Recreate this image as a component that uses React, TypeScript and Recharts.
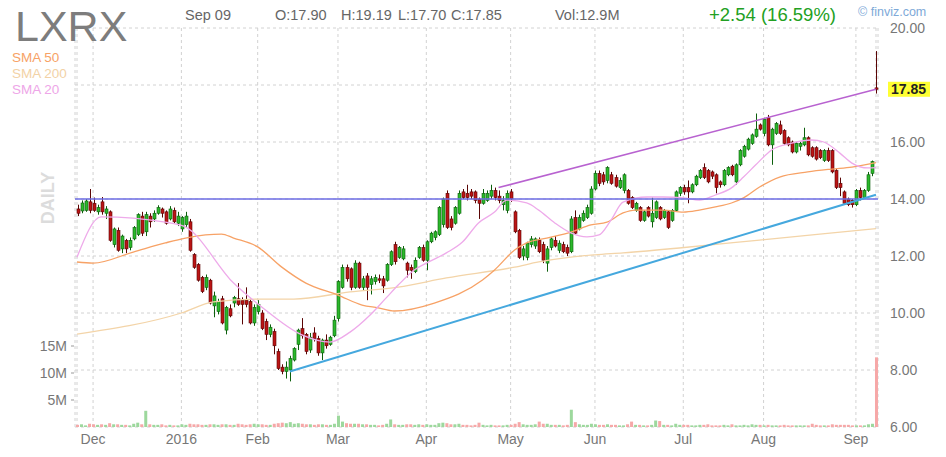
import React from "react";
import { ComposedChart, Bar, Line, XAxis, YAxis, CartesianGrid, ReferenceLine } from "recharts";

const FONT = "'Liberation Sans', Arial, sans-serif";

// trading days on the chart, month by month
const tradingDays: [string, number[]][] = [
  ["2015-11", [24, 25, 27, 30]],
  ["2015-12", [1, 2, 3, 4, 7, 8, 9, 10, 11, 14, 15, 16, 17, 18, 21, 22, 23, 24, 28, 29, 30, 31]],
  ["2016-01", [4, 5, 6, 7, 8, 11, 12, 13, 14, 15, 19, 20, 21, 22, 25, 26, 27, 28, 29]],
  ["2016-02", [1, 2, 3, 4, 5, 8, 9, 10, 11, 12, 16, 17, 18, 19, 22, 23, 24, 25, 26, 29]],
  ["2016-03", [1, 2, 3, 4, 7, 8, 9, 10, 11, 14, 15, 16, 17, 18, 21, 22, 23, 24, 28, 29, 30, 31]],
  ["2016-04", [1, 4, 5, 6, 7, 8, 11, 12, 13, 14, 15, 18, 19, 20, 21, 22, 25, 26, 27, 28, 29]],
  ["2016-05", [2, 3, 4, 5, 6, 9, 10, 11, 12, 13, 16, 17, 18, 19, 20, 23, 24, 25, 26, 27, 31]],
  ["2016-06", [1, 2, 3, 6, 7, 8, 9, 10, 13, 14, 15, 16, 17, 20, 21, 22, 23, 24, 27, 28, 29, 30]],
  ["2016-07", [1, 5, 6, 7, 8, 11, 12, 13, 14, 15, 18, 19, 20, 21, 22, 25, 26, 27, 28, 29]],
  ["2016-08", [1, 2, 3, 4, 5, 8, 9, 10, 11, 12, 15, 16, 17, 18, 19, 22, 23, 24, 25, 26, 29, 30, 31]],
  ["2016-09", [1, 2, 6, 7, 8, 9]],
];

const monthTicks = ["2015-12-01", "2016-01-04", "2016-02-01", "2016-03-01", "2016-04-01", "2016-05-02", "2016-06-01", "2016-07-01", "2016-08-01", "2016-09-01"];
const monthLabels = ["Dec", "2016", "Feb", "Mar", "Apr", "May", "Jun", "Jul", "Aug", "Sep"];

// open, high, low, close
const ohlc: number[][] = [
  [13.65, 13.8, 13.4, 13.5], [13.58, 13.95, 13.5, 13.86], [13.6, 14.0, 13.55, 13.93], [13.9, 14.35, 13.5, 13.6],
  [13.85, 14.05, 13.55, 13.6], [13.55, 13.8, 13.45, 13.7], [13.9, 14.07, 13.45, 13.55], [13.5, 13.75, 13.3, 13.65],
  [13.55, 13.6, 12.5, 12.55], [12.4, 13.0, 12.3, 12.95], [12.9, 13.0, 12.15, 12.2], [12.25, 12.75, 12.1, 12.7],
  [12.55, 12.6, 12.1, 12.25], [12.3, 12.65, 12.2, 12.55], [12.6, 13.05, 12.55, 13.0], [12.75, 13.5, 12.7, 13.45],
  [13.4, 13.55, 12.7, 12.8], [12.85, 13.55, 12.7, 13.45], [13.4, 13.5, 13.0, 13.2], [13.3, 13.6, 13.2, 13.5],
  [13.5, 13.78, 13.45, 13.7], [13.65, 13.7, 13.35, 13.5], [13.55, 13.6, 13.1, 13.15], [13.3, 13.75, 13.25, 13.65],
  [13.6, 13.7, 13.15, 13.2], [13.15, 13.55, 13.05, 13.4],
  [12.95, 13.4, 12.85, 13.35], [13.1, 13.55, 13.0, 13.4], [13.2, 13.3, 12.15, 12.2], [12.05, 12.1, 11.55, 11.6],
  [11.7, 11.75, 11.1, 11.15], [11.25, 11.3, 10.7, 10.75], [10.9, 11.35, 10.8, 11.25], [11.15, 11.2, 10.3, 10.35],
  [10.25, 10.75, 9.85, 10.6], [10.05, 10.5, 9.95, 10.4], [10.5, 10.6, 9.6, 9.65], [9.4, 10.25, 9.25, 10.2],
  [10.15, 10.3, 9.85, 9.9], [10.35, 10.6, 10.2, 10.55], [10.5, 11.05, 10.25, 10.3], [10.45, 10.55, 9.6, 10.3],
  [10.45, 10.9, 10.2, 10.3], [10.4, 10.5, 9.6, 9.65], [9.65, 10.3, 9.55, 10.2],
  [10.05, 10.45, 9.95, 10.3], [10.0, 10.1, 9.4, 9.45], [9.7, 9.8, 9.05, 9.25], [9.25, 9.6, 9.15, 9.5],
  [9.35, 9.45, 8.55, 8.85], [8.65, 8.75, 8.0, 8.05], [8.1, 8.2, 7.85, 7.95], [7.95, 8.3, 7.7, 8.1],
  [8.0, 8.5, 7.6, 8.4], [8.35, 8.8, 8.3, 8.75], [8.9, 9.45, 8.7, 9.4], [9.45, 9.82, 9.1, 9.2],
  [9.25, 9.3, 8.55, 8.65], [8.7, 9.3, 8.6, 9.15], [9.3, 9.5, 9.0, 9.1], [9.1, 9.2, 8.5, 8.6],
  [8.6, 9.1, 8.35, 9.05], [9.05, 9.25, 8.75, 8.85], [8.9, 9.2, 8.85, 9.15], [9.2, 9.9, 9.15, 9.75],
  [9.8, 11.15, 9.7, 11.1], [10.9, 11.7, 10.85, 11.6], [11.6, 11.7, 11.1, 11.2], [11.55, 11.6, 10.8, 10.9],
  [10.9, 11.85, 10.85, 11.75], [11.75, 11.8, 10.85, 10.9], [10.9, 11.3, 10.8, 11.2], [11.3, 11.4, 10.45, 10.9],
  [11.0, 11.3, 10.65, 11.2], [11.1, 11.35, 11.0, 11.25], [11.2, 11.35, 11.05, 11.15], [11.2, 11.3, 10.7, 10.95],
  [11.15, 11.75, 11.1, 11.7], [11.7, 12.2, 11.65, 12.15], [12.4, 12.5, 11.7, 11.8], [11.95, 12.35, 11.9, 12.3],
  [11.9, 12.35, 11.85, 12.25], [11.75, 11.8, 11.25, 11.5], [11.6, 11.7, 11.2, 11.5], [11.45, 11.95, 11.4, 11.85],
  [11.95, 12.35, 11.9, 12.3], [12.3, 12.4, 11.8, 11.85],
  [11.85, 12.55, 11.5, 12.5], [12.5, 12.85, 12.45, 12.8], [12.65, 12.9, 12.55, 12.85], [12.75, 13.75, 12.7, 13.7],
  [13.1, 14.05, 13.0, 14.0], [14.2, 14.3, 12.95, 13.0], [13.3, 13.4, 12.9, 13.0], [13.15, 13.75, 13.1, 13.7],
  [13.5, 14.3, 13.45, 14.2], [14.25, 14.35, 14.0, 14.05], [14.2, 14.5, 13.95, 14.05], [14.25, 14.35, 14.0, 14.1],
  [14.25, 14.3, 13.85, 13.95], [14.0, 14.05, 13.3, 13.85], [13.85, 14.35, 13.8, 14.2], [13.95, 14.3, 13.9, 14.2],
  [14.1, 14.5, 14.0, 14.3], [14.3, 14.4, 13.95, 14.05], [14.1, 14.3, 13.85, 13.95], [13.8, 14.1, 13.6, 13.95],
  [13.6, 14.3, 13.5, 14.2],
  [14.25, 14.35, 13.9, 14.0], [13.55, 13.6, 12.8, 12.85], [12.9, 12.95, 11.9, 11.95], [12.0, 12.35, 11.85, 12.25],
  [11.95, 12.5, 11.85, 12.45], [12.4, 12.7, 12.3, 12.6], [12.35, 12.65, 12.25, 12.6], [12.55, 12.65, 12.1, 12.15],
  [12.4, 12.5, 11.75, 11.85], [11.75, 12.35, 11.45, 12.25], [12.3, 12.65, 12.2, 12.6], [12.55, 12.7, 12.3, 12.35],
  [12.2, 12.55, 12.1, 12.45], [12.4, 12.5, 12.1, 12.15], [12.3, 12.4, 12.0, 12.1], [12.15, 13.4, 12.1, 13.3],
  [13.35, 13.6, 12.75, 12.8], [12.95, 13.45, 12.9, 13.35], [13.25, 13.6, 13.2, 13.5], [13.35, 13.8, 13.3, 13.7],
  [13.5, 14.45, 13.45, 14.35],
  [14.35, 15.0, 14.3, 14.9], [14.9, 15.0, 14.45, 14.55], [14.85, 14.95, 14.5, 14.6], [14.65, 15.15, 14.55, 15.1],
  [14.85, 14.95, 14.5, 14.55], [14.75, 14.85, 14.4, 14.45], [14.4, 14.75, 14.35, 14.65], [14.3, 14.9, 14.2, 14.85],
  [14.3, 14.35, 13.8, 13.85], [14.05, 14.1, 13.65, 13.7], [13.6, 13.9, 13.55, 13.85], [13.7, 13.75, 13.2, 13.25],
  [13.25, 13.6, 13.2, 13.55], [13.7, 13.75, 13.35, 13.4], [13.2, 14.05, 13.0, 13.5], [13.35, 13.95, 13.3, 13.9],
  [13.7, 13.75, 13.25, 13.3], [13.35, 13.65, 13.3, 13.6], [13.55, 13.6, 12.95, 13.0], [13.25, 13.65, 13.2, 13.6],
  [13.6, 14.3, 13.55, 14.25], [14.2, 14.45, 14.1, 14.4],
  [14.4, 14.5, 14.15, 14.25], [14.4, 14.65, 13.85, 14.25], [14.25, 14.55, 14.2, 14.5], [14.5, 14.85, 14.45, 14.8],
  [14.75, 15.05, 14.7, 15.0], [15.1, 15.25, 14.7, 14.75], [15.0, 15.05, 14.55, 14.6], [14.95, 15.0, 14.7, 14.8],
  [14.85, 14.9, 14.2, 14.4], [14.6, 14.65, 14.4, 14.5], [14.5, 15.05, 14.45, 15.0], [14.85, 15.15, 14.8, 15.1],
  [15.15, 15.2, 14.8, 14.85], [14.6, 15.25, 14.5, 15.2], [15.2, 15.75, 15.15, 15.7], [15.5, 15.9, 15.45, 15.85],
  [15.75, 16.15, 15.7, 16.1], [15.95, 16.3, 15.9, 16.25], [16.2, 17.0, 16.15, 16.45], [16.6, 16.65, 16.4, 16.45],
  [16.3, 16.85, 16.2, 16.8], [16.85, 16.95, 15.85, 15.9], [15.9, 16.5, 15.2, 16.45], [16.3, 16.7, 16.25, 16.65],
  [16.6, 16.75, 16.25, 16.3], [16.4, 16.45, 15.9, 15.95], [16.15, 16.2, 15.85, 15.9], [16.0, 16.05, 15.6, 15.65],
  [15.65, 16.0, 15.6, 15.95], [15.85, 16.0, 15.7, 15.95], [15.9, 16.5, 15.85, 16.15], [16.15, 16.2, 15.5, 15.55],
  [15.8, 15.85, 15.45, 15.5], [15.8, 15.85, 15.35, 15.4], [15.7, 15.75, 15.4, 15.45], [15.35, 15.75, 15.3, 15.7],
  [15.7, 15.8, 15.3, 15.35], [15.7, 15.75, 14.9, 14.95], [15.0, 15.05, 14.35, 14.4], [14.55, 14.75, 14.1, 14.4],
  [14.25, 14.3, 13.8, 13.85], [14.0, 14.05, 13.75, 13.8], [13.95, 14.0, 13.7, 13.8],
  [13.8, 14.35, 13.75, 14.3], [14.3, 14.4, 13.95, 14.05], [14.05, 14.35, 14.0, 14.3], [14.3, 14.95, 14.25, 14.85],
  [14.9, 15.35, 14.8, 15.31], [17.9, 19.19, 17.7, 17.85],
];

// daily volume, millions
const volumes = [
  0.4, 0.5, 0.3, 0.6, 0.5, 0.4, 0.5, 0.4, 0.7, 0.5,
  0.5, 0.4, 0.4, 0.3, 0.6, 0.8, 0.5, 3.0, 0.5, 0.4,
  0.4, 0.5, 0.3, 0.4, 0.3, 0.3, 0.5, 0.4, 0.6, 0.5,
  0.5, 0.4, 0.4, 0.5, 0.5, 0.4, 0.5, 0.5, 0.4, 0.4,
  0.6, 0.5, 0.4, 0.5, 0.6, 0.5, 0.5, 0.4, 0.4, 0.6,
  0.7, 0.8, 0.7, 0.9, 0.6, 0.7, 0.6, 0.5, 0.5, 0.4,
  0.5, 0.5, 0.4, 0.4, 0.6, 2.1, 1.0, 0.7, 0.6, 0.6,
  0.6, 0.5, 0.5, 0.4, 0.4, 0.3, 0.4, 0.6, 1.4, 0.5,
  0.4, 0.4, 0.5, 0.5, 0.4, 0.5, 0.4, 0.5, 0.4, 0.4,
  0.7, 0.8, 0.7, 0.5, 0.5, 0.6, 0.4, 0.4, 0.3, 0.4,
  0.8, 0.4, 0.3, 0.4, 0.3, 0.3, 0.3, 0.4, 0.4, 0.6,
  0.9, 0.5, 0.4, 0.4, 0.5, 1.0, 0.6, 0.6, 0.4, 0.4,
  0.4, 0.3, 0.4, 3.2, 0.9, 0.5, 0.4, 0.4, 0.6, 0.5,
  0.4, 0.4, 0.5, 0.4, 0.4, 0.3, 0.3, 0.5, 1.0, 0.4,
  0.4, 0.3, 0.3, 0.4, 1.2, 1.1, 0.4, 0.4, 0.3, 0.6,
  0.4, 0.4, 0.4, 0.3, 0.3, 0.4, 0.4, 0.5, 0.3, 0.3,
  0.3, 0.4, 0.3, 0.5, 0.3, 0.3, 0.4, 0.3, 0.5, 0.4,
  0.4, 0.3, 0.4, 0.3, 0.3, 0.3, 0.4, 0.3, 0.3, 0.3,
  0.3, 0.3, 0.3, 0.6, 0.4, 0.3, 0.3, 0.3, 0.5, 0.4,
  0.4, 0.4, 0.4, 0.3, 0.3, 0.3, 0.3, 0.5, 0.6, 12.9,
];

// moving averages: [trading day index, value]
const sma20Points: [number, number][] = [
  [0, 11.96], [6, 13.37], [22, 13.19], [27, 13.02], [39, 11.05], [46, 10.21], [56, 9.23], [63, 8.98],
  [68, 9.33], [73, 9.93], [77, 10.53], [80, 10.98], [84, 11.51], [87, 11.75], [92, 12.11], [96, 12.49],
  [100, 13.16], [104, 13.54], [107, 13.96], [112, 13.86], [115, 13.61], [119, 13.16], [123, 12.81],
  [127, 12.67], [130, 12.74], [133, 13.26], [136, 13.89], [142, 14.07], [146, 14.07], [151, 14.04],
  [155, 13.96], [159, 14.14], [163, 14.39], [166, 14.77], [169, 15.19], [173, 15.72], [178, 15.96],
  [183, 16.07], [186, 16.0], [190, 15.61], [193, 15.26], [197, 15.09], [199, 15.1],
];
const sma50Points: [number, number][] = [
  [0, 11.79], [4, 11.75], [14, 12.14], [22, 12.46], [27, 12.63], [32, 12.74], [36, 12.77], [39, 12.63],
  [45, 12.32], [51, 11.61], [57, 11.05], [65, 10.63], [71, 10.28], [75, 10.18], [79, 10.07], [89, 10.35],
  [101, 11.16], [104, 11.51], [109, 12.21], [112, 12.46], [117, 12.63], [123, 12.84], [128, 13.09],
  [132, 13.19], [136, 13.51], [139, 13.61], [146, 13.61], [151, 13.54], [155, 13.61], [159, 13.72],
  [163, 13.86], [166, 14.04], [170, 14.42], [175, 14.77], [182, 14.95], [188, 15.05], [193, 15.12], [199, 15.28],
];
const sma200Points: [number, number][] = [
  [0, 9.26], [26, 10.0], [34, 10.39], [46, 10.49], [54, 10.49], [68, 10.74], [80, 10.91], [92, 11.23],
  [109, 11.61], [115, 11.79], [123, 11.96], [129, 12.04], [136, 12.11], [150, 12.28], [170, 12.56],
  [185, 12.77], [199, 12.96],
];

const priceTicks = [6, 8, 10, 12, 14, 16, 18, 20];
const volumeTicks = [5, 10, 15];
const lastClose = 17.85;

const dates = tradingDays.flatMap(([m, days]) => days.map((d) => `${m}-${String(d).padStart(2, "0")}`));
const m20 = new Map(sma20Points);
const m50 = new Map(sma50Points);
const m200 = new Map(sma200Points);

const rows = dates.map((date, i) => {
  const [open, high, low, close] = ohlc[i];
  return {
    date, open, high, low, close,
    volume: volumes[i],
    sma20: m20.get(i) ?? null,
    sma50: m50.get(i) ?? null,
    sma200: m200.get(i) ?? null,
  };
});

const CandleShape = (props: any) => {
  const { x, y, width, height, payload } = props;
  if (x == null || !payload) return <g />;
  const top = Math.min(y, y + height);
  const span = Math.abs(height);
  const { open, high, low, close } = payload;
  const range = high - low || 1;
  const toY = (p: number) => top + ((high - p) / range) * span;
  const up = close >= open;
  const cx = Math.round(x + width / 2) + 0.5;
  const y1 = toY(open);
  const y2 = toY(close);
  const edge = up ? "#0c5f0c" : "#5a0505";
  return (
    <g>
      <line x1={cx} x2={cx} y1={top} y2={top + span} stroke={edge} strokeWidth={1} />
      <rect x={cx - 1.5} y={Math.min(y1, y2)} width={3} height={Math.max(Math.abs(y1 - y2), 1)}
        fill={up ? "#2cb82c" : "#bb1515"} stroke={edge} strokeWidth={0.6} />
    </g>
  );
};

const VolumeShape = (props: any) => {
  const { x, y, width, height, payload } = props;
  if (x == null || !payload) return <g />;
  return <rect x={x} y={y} width={width} height={Math.max(height, 0)}
    fill={payload.close >= payload.open ? "#9dd89d" : "#f6a8a8"} />;
};

const XTick = (props: any) => {
  const k = monthTicks.indexOf(props.payload?.value);
  if (k < 0) return <g />;
  return <text x={props.x} y={props.y + 17} textAnchor="middle" fontFamily={FONT} fontSize={14} fill="#777">{monthLabels[k]}</text>;
};

const PriceTick = (props: any) => {
  const v = props.payload?.value;
  if (v === 18) return <g />;
  return <text x={props.x + 12} y={props.y + 5} fontFamily={FONT} fontSize={14} fill="#777">{Number(v).toFixed(2)}</text>;
};

const VolumeTick = (props: any) => (
  <g>
    <line x1={props.x - 4} x2={props.x - 1} y1={props.y} y2={props.y} stroke="#999" />
    <text x={props.x - 8} y={props.y + 5} textAnchor="end" fontFamily={FONT} fontSize={14} fill="#777">{props.payload?.value}M</text>
  </g>
);

const PriceTag = (props: any) => {
  const vb = props.viewBox || {};
  const x = (vb.x ?? 0) + (vb.width ?? 0);
  const y = vb.y ?? 0;
  return (
    <g>
      <rect x={x + 10} y={y - 7.5} width={42} height={15} fill="#ffff33" />
      <text x={x + 13} y={y + 5} fontFamily={FONT} fontSize={14} fontWeight="bold" fill="#222">{lastClose.toFixed(2)}</text>
    </g>
  );
};

export default function App() {
  return (
    <div style={{ position: "absolute", left: 0, top: 0, width: 946, height: 457, background: "#fff" }}>
      <ComposedChart width={946} height={457} data={rows} margin={{ top: 28, right: 8, bottom: 0, left: 15 }}>
        <CartesianGrid xAxisId="main" yAxisId="price" stroke="#d2d2d2" strokeDasharray="3 3" />
        <XAxis xAxisId="main" dataKey="date" ticks={[dates[0], ...monthTicks, dates[dates.length - 1]]} interval={0}
          tick={XTick} tickLine={false} axisLine={false} tickSize={0} tickMargin={0} height={30} />
        <XAxis xAxisId="vol" dataKey="date" hide />
        <YAxis yAxisId="price" orientation="right" domain={[6, 20]} ticks={priceTicks} width={60}
          tick={PriceTick} tickLine={false} axisLine={false} tickSize={0} tickMargin={0} />
        <YAxis yAxisId="vol" orientation="left" domain={[0, 73.9]} ticks={volumeTicks} width={60}
          tick={VolumeTick} tickLine={false} axisLine={false} tickSize={0} tickMargin={0} />
        <Bar xAxisId="vol" yAxisId="vol" dataKey="volume" barSize={3} shape={VolumeShape} isAnimationActive={false} />
        <Line xAxisId="main" yAxisId="price" dataKey="sma200" type="monotone" connectNulls dot={false}
          stroke="#f3d4a8" strokeWidth={1.3} isAnimationActive={false} />
        <Line xAxisId="main" yAxisId="price" dataKey="sma50" type="monotone" connectNulls dot={false}
          stroke="#f7a266" strokeWidth={1.3} isAnimationActive={false} />
        <Line xAxisId="main" yAxisId="price" dataKey="sma20" type="monotone" connectNulls dot={false}
          stroke="#eeaaea" strokeWidth={1.3} isAnimationActive={false} />
        <ReferenceLine xAxisId="main" yAxisId="price" y={14} stroke="#6c6ce4" strokeWidth={1.5} />
        <ReferenceLine xAxisId="main" yAxisId="price" segment={[{ x: dates[53], y: 7.95 }, { x: dates[199], y: 14.15 }]}
          stroke="#45a8de" strokeWidth={2} />
        <ReferenceLine xAxisId="main" yAxisId="price" segment={[{ x: dates[105], y: 14.4 }, { x: dates[199], y: lastClose }]}
          stroke="#b862d0" strokeWidth={1.6} />
        <Bar xAxisId="main" yAxisId="price" dataKey={(d: any) => [d.low, d.high]} barSize={3} shape={CandleShape}
          isAnimationActive={false} />
        <ReferenceLine xAxisId="main" yAxisId="price" y={lastClose} stroke="none" label={PriceTag} />
      </ComposedChart>
      <svg width={946} height={457} style={{ position: "absolute", left: 0, top: 0, pointerEvents: "none" }}>
        <text x={15} y={41} fontFamily={FONT} fontSize={43} fill="#7d7d7d">LXRX</text>
        <text x={185} y={20} fontFamily={FONT} fontSize={14.5} fill="#666">Sep 09</text>
        <text x={275} y={20} fontFamily={FONT} fontSize={14.5} fill="#666">O:17.90</text>
        <text x={341} y={20} fontFamily={FONT} fontSize={14.5} fill="#666">H:19.19</text>
        <text x={398} y={20} fontFamily={FONT} fontSize={14.5} fill="#666">L:17.70</text>
        <text x={451} y={20} fontFamily={FONT} fontSize={14.5} fill="#666">C:17.85</text>
        <text x={555} y={20} fontFamily={FONT} fontSize={14.5} fill="#666">Vol:12.9M</text>
        <text x={709} y={21} fontFamily={FONT} fontSize={18.5} fill="#22a022">+2.54 (16.59%)</text>
        <text x={858} y={16} fontFamily={FONT} fontSize={12.5} fill="#7ea9d8">© finviz.com</text>
        <text x={12} y={62} fontFamily={FONT} fontSize={13.5} fill="#f7a266">SMA 50</text>
        <text x={12} y={78} fontFamily={FONT} fontSize={13.5} fill="#f2d2a6">SMA 200</text>
        <text x={12} y={94} fontFamily={FONT} fontSize={13.5} fill="#eea6e8">SMA 20</text>
        <text x={0} y={0} transform="translate(54,198) rotate(-90)" textAnchor="middle" fontFamily={FONT}
          fontSize={18} fontWeight="bold" fill="#dcdcdc">DAILY</text>
      </svg>
    </div>
  );
}
